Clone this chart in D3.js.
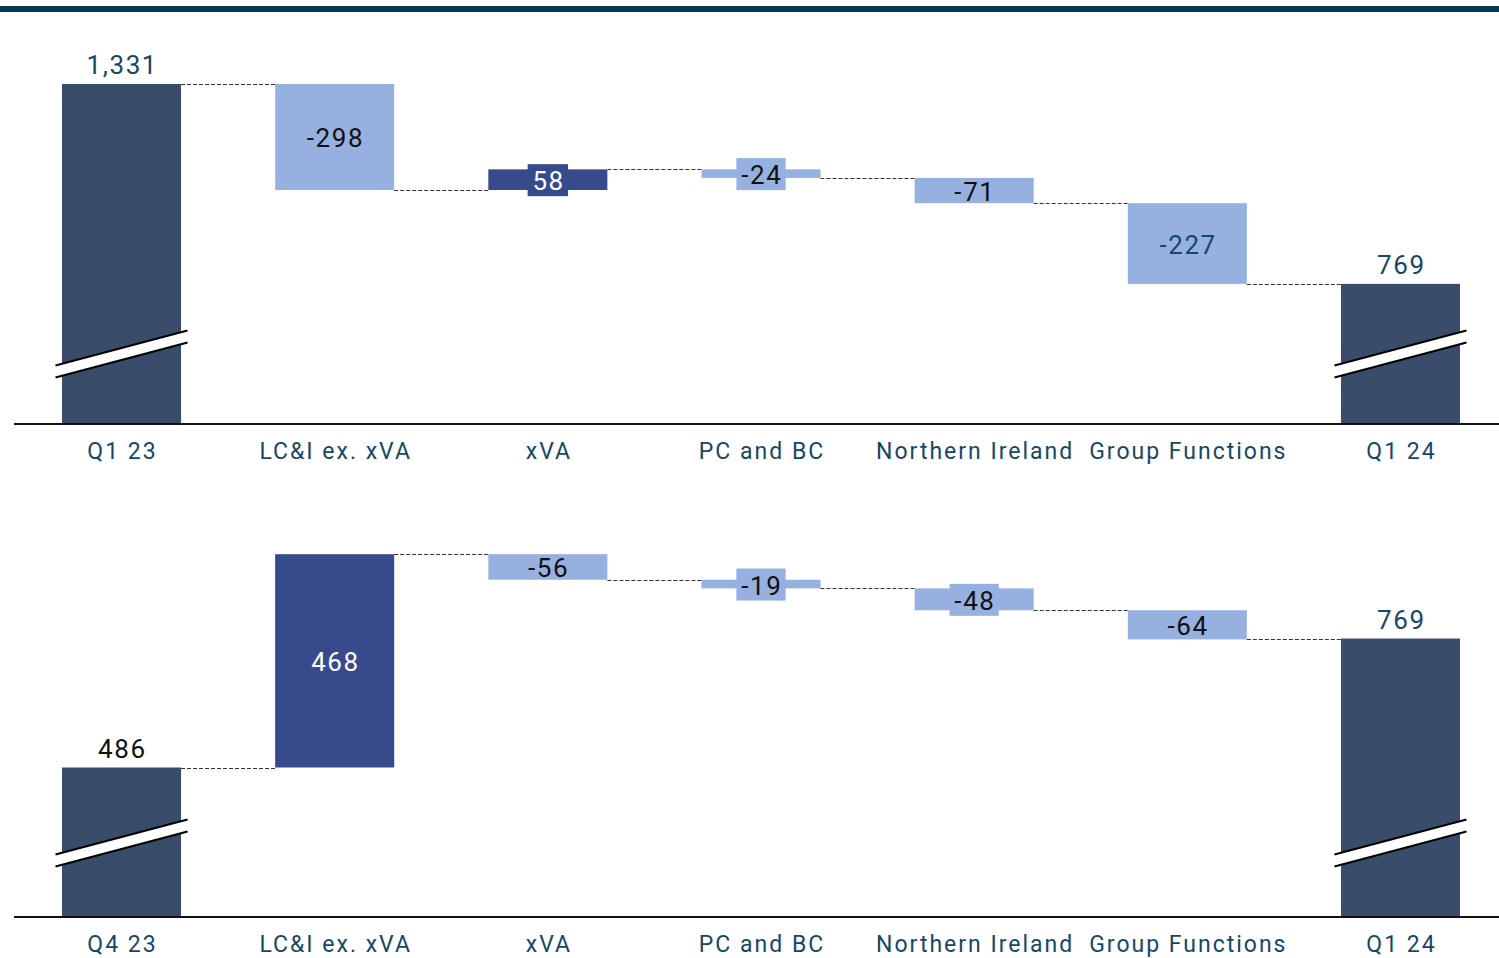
<!DOCTYPE html>
<html>
<head>
<meta charset="utf-8">
<script src="https://cdn.jsdelivr.net/npm/d3@7"></script>
<style>
  html, body { margin: 0; padding: 0; background: #fff; }
  svg { display: block; }
  text { font-family: Roboto, "Noto Sans", sans-serif; }
</style>
</head>
<body>
<svg id="chart" width="1499" height="958"></svg>
<script>
// ---- data ----
const categoriesTop = ["Q1 23", "LC&I ex. xVA", "xVA", "PC and BC", "Northern Ireland", "Group Functions", "Q1 24"];
const valuesTop = [1331, -298, 58, -24, -71, -227, 769];
const kindsTop = ["total", "delta", "delta", "delta", "delta", "delta", "total"];
const labelsTop = ["1,331", "-298", "58", "-24", "-71", "-227", "769"];

const categoriesBottom = ["Q4 23", "LC&I ex. xVA", "xVA", "PC and BC", "Northern Ireland", "Group Functions", "Q1 24"];
const valuesBottom = [486, 468, -56, -19, -48, -64, 769];
const kindsBottom = ["total", "delta", "delta", "delta", "delta", "delta", "total"];
const labelsBottom = ["486", "468", "-56", "-19", "-48", "-64", "769"];

// ---- styles ----
const C_TOTAL = "#394d6b";
const C_POS = "#374a8b";
const C_NEG = "#96b0e0";
const C_TEXT = "#174766";
const inkTop = [C_TEXT, "#111", "#fff", "#111", "#111", C_TEXT, C_TEXT];
const inkBottom = ["#111", "#fff", "#111", "#111", "#111", "#111", C_TEXT];
const VAL_LS = 1.6, CAT_LS = 2;

const svg = d3.select("#chart");

// top rule
svg.append("rect").attr("x", 0).attr("y", 6).attr("width", 1499).attr("height", 6).attr("fill", "#073a56");

function drawWaterfall(cfg) {
  const { cats, vals, kinds, labels, inks, yDomain, yRange, baseline, breakOffset } = cfg;
  const g = svg.append("g");
  const x = d3.scaleBand().domain(cats).range([62, 1460]).paddingInner(0.4416).paddingOuter(0);
  const y = d3.scaleLinear().domain(yDomain).range(yRange);
  const bw = x.bandwidth();

  let level = 0;
  const segs = cats.map((c, i) => {
    let lo, hi, start, end, color;
    if (kinds[i] === "total") {
      lo = yDomain[0]; hi = vals[i]; start = vals[i]; end = vals[i]; color = C_TOTAL;
      level = vals[i];
    } else {
      start = level; end = level + vals[i];
      lo = Math.min(start, end); hi = Math.max(start, end);
      color = vals[i] >= 0 ? C_POS : C_NEG;
      level = end;
    }
    return { c, i, lo, hi, start, end, color };
  });

  // connectors
  segs.slice(0, -1).forEach((s, i) => {
    const yy = Math.round(y(s.end)) + 0.5;
    g.append("line")
      .attr("x1", x(s.c) + bw).attr("x2", x(segs[i + 1].c))
      .attr("y1", yy).attr("y2", yy)
      .attr("stroke", "#333").attr("stroke-width", 1).attr("stroke-dasharray", "4,2");
  });

  // bars
  g.selectAll("rect.bar").data(segs).join("rect")
    .attr("class", "bar")
    .attr("x", d => x(d.c)).attr("width", bw)
    .attr("y", d => y(d.hi)).attr("height", d => y(d.lo) - y(d.hi))
    .attr("fill", d => d.color);

  // baseline
  g.append("line").attr("x1", 14).attr("x2", 1499)
    .attr("y1", baseline).attr("y2", baseline)
    .attr("stroke", "#111").attr("stroke-width", 2);

  // break marks on totals
  segs.filter(d => kinds[d.i] === "total").forEach(d => {
    const x0 = x(d.c) - 6.5, x1 = x(d.c) + bw + 6.5;
    const cy = baseline - breakOffset;
    const dy = 17.5, gap = 6;
    const pts = [[x0, cy + dy - gap], [x1, cy - dy - gap], [x1, cy - dy + gap], [x0, cy + dy + gap]];
    g.append("polygon").attr("points", pts.map(p => p.join(",")).join(" ")).attr("fill", "#fff");
    g.append("line").attr("x1", x0).attr("y1", cy + dy - gap).attr("x2", x1).attr("y2", cy - dy - gap)
      .attr("stroke", "#000").attr("stroke-width", 2);
    g.append("line").attr("x1", x0).attr("y1", cy + dy + gap).attr("x2", x1).attr("y2", cy - dy + gap)
      .attr("stroke", "#000").attr("stroke-width", 2);
  });

  // value labels
  segs.forEach(d => {
    const cx = x(d.c) + bw / 2 + VAL_LS / 2;
    if (kinds[d.i] === "total") {
      g.append("text").attr("x", cx).attr("y", y(d.hi) - 10)
        .attr("text-anchor", "middle").attr("font-size", 26).attr("fill", inks[d.i])
        .attr("letter-spacing", VAL_LS)
        .text(labels[d.i]);
    } else {
      const cy = (y(d.hi) + y(d.lo)) / 2;
      const h = y(d.lo) - y(d.hi);
      const t = g.append("text").attr("x", cx).attr("y", cy + 10.5)
        .attr("text-anchor", "middle").attr("font-size", 26).attr("fill", inks[d.i])
        .attr("letter-spacing", VAL_LS)
        .text(labels[d.i]);
      if (h < 24) {
        const w = t.node().getComputedTextLength() + 8;
        g.insert("rect", () => t.node())
          .attr("x", x(d.c) + bw / 2 - w / 2).attr("width", w)
          .attr("y", cy - 15.5).attr("height", 32)
          .attr("fill", d.color);
      }
    }
  });

  // category labels
  g.selectAll("text.cat").data(cats).join("text")
    .attr("class", "cat")
    .attr("x", d => x(d) + bw / 2 + CAT_LS / 2).attr("y", baseline + 35)
    .attr("text-anchor", "middle").attr("font-size", 23).attr("fill", C_TEXT)
    .attr("letter-spacing", CAT_LS)
    .text(d => d);
}

drawWaterfall({
  cats: categoriesTop, vals: valuesTop, kinds: kindsTop, labels: labelsTop, inks: inkTop,
  yDomain: [375, 1331], yRange: [424, 84], baseline: 424, breakOffset: 70
});
drawWaterfall({
  cats: categoriesBottom, vals: valuesBottom, kinds: kindsBottom, labels: labelsBottom, inks: inkBottom,
  yDomain: [158, 954], yRange: [917, 554.2], baseline: 917, breakOffset: 74
});
</script>
</body>
</html>
